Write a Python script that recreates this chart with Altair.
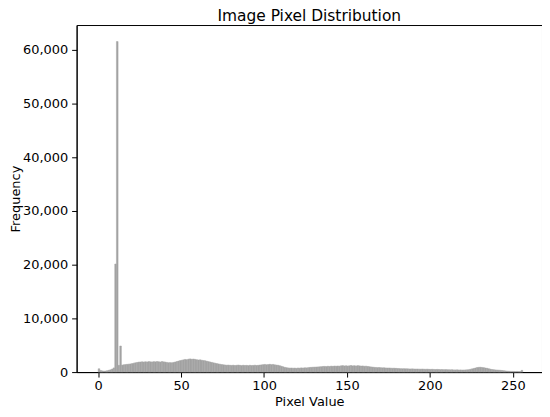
import altair as alt
import pandas as pd

# histogram bins: pixel value (bin start) and frequency
bin_start = list(range(256))
frequency = [
    620, 280, 220, 180, 200, 260, 330, 420, 560, 780, 20100, 61500, 1250, 4850, 1300, 1360,
    1400, 1440, 1480, 1520, 1580, 1660, 1730, 1790, 1850, 1880, 1900, 1870, 1920, 1890, 1950, 1910,
    1880, 1940, 1900, 1960, 1920, 1870, 1950, 1900, 1860, 1800, 1740, 1760, 1720, 1800, 1880, 1960,
    2050, 2140, 2200, 2280, 2350, 2300, 2400, 2450, 2380, 2420, 2360, 2300, 2250, 2280, 2200, 2150,
    2100, 2020, 1950, 1880, 1800, 1720, 1650, 1580, 1520, 1460, 1400, 1360, 1320, 1280, 1300, 1260,
    1240, 1280, 1220, 1260, 1300, 1250, 1210, 1270, 1230, 1250, 1200, 1260, 1220, 1240, 1280, 1230,
    1260, 1300, 1340, 1380, 1420, 1360, 1400, 1440, 1380, 1420, 1350, 1300, 1260, 1180, 1080, 980,
    880, 820, 780, 740, 760, 720, 740, 700, 760, 730, 780, 750, 800, 780, 820, 860,
    880, 900, 920, 940, 960, 980, 1000, 1040, 1060, 1020, 1080, 1050, 1100, 1070, 1120, 1090,
    1130, 1100, 1160, 1200, 1140, 1180, 1120, 1170, 1210, 1150, 1190, 1130, 1200, 1160, 1110, 1140,
    1080, 1100, 1050, 1000, 960, 920, 880, 860, 830, 850, 810, 790, 800, 770, 750, 760,
    730, 710, 720, 690, 670, 650, 640, 620, 630, 600, 610, 590, 580, 600, 570, 560,
    570, 550, 540, 560, 530, 520, 540, 510, 500, 520, 490, 480, 500, 470, 460, 470,
    450, 460, 440, 430, 420, 440, 410, 400, 420, 390, 400, 380, 390, 400, 420, 450,
    520, 600, 680, 760, 840, 880, 900, 860, 820, 760, 700, 620, 540, 480, 440, 400,
    380, 360, 330, 300, 260, 220, 180, 160, 140, 130, 120, 110, 120, 100, 90, 320,
]
x_ticks = [0, 50, 100, 150, 200, 250]
y_ticks = [0, 10000, 20000, 30000, 40000, 50000, 60000]

df = pd.DataFrame({"start": bin_start, "count": frequency})

FONT = "DejaVu Sans"
BAR = "#a3a3a3"

chart = (
    alt.Chart(df)
    .transform_calculate(end="datum.start + 1")
    .mark_rect(color=BAR, stroke=BAR, strokeWidth=0.5)
    .encode(
        x=alt.X(
            "start:Q",
            scale=alt.Scale(domain=[-13, 267.6], nice=False, zero=False),
            axis=alt.Axis(values=x_ticks, title="Pixel Value", format="d",
                          labelPadding=3, titlePadding=3),
        ),
        x2="end:Q",
        y=alt.Y(
            "count:Q",
            scale=alt.Scale(domain=[0, 64575], nice=False),
            axis=alt.Axis(values=y_ticks, title="Frequency", format=",d",
                          labelPadding=4, titlePadding=0),
        ),
        y2=alt.datum(0),
    )
    .properties(
        width=468,
        height=349,
        autosize=alt.AutoSizeParams(type="none"),
        padding={"left": 69, "top": 16, "right": 0, "bottom": 36},
        title=alt.TitleParams(
            "Image Pixel Distribution", font=FONT, fontSize=15.5,
            fontWeight="normal", color="black", anchor="middle",
            offset=1,
        ),
    )
    .configure_view(stroke="black", strokeWidth=1)
    .configure_axis(
        grid=False,
        domainColor="black",
        domainWidth=1,
        tickColor="black",
        tickSize=5,
        tickWidth=1,
        labelFont=FONT,
        labelFontSize=13,
        labelColor="black",
        titleFont=FONT,
        titleFontSize=13,
        titleFontWeight="normal",
        titleColor="black",
    )
)

chart.save("out.html", embed_options={"renderer": "svg", "actions": False})
